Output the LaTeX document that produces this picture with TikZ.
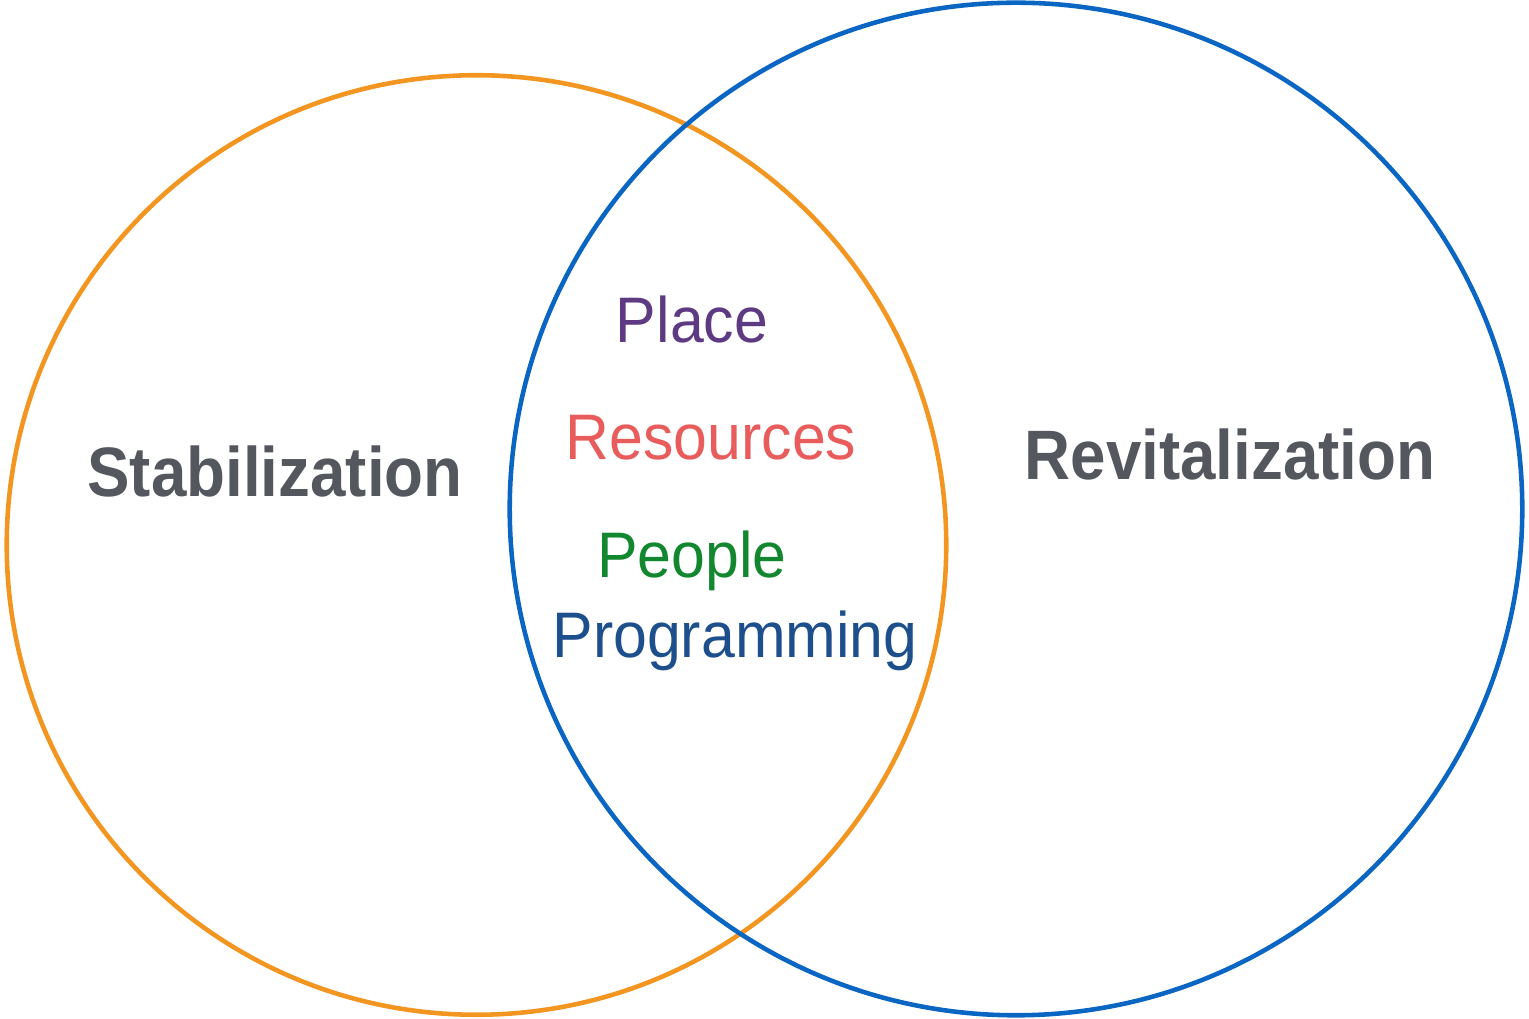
\documentclass[tikz,border=0pt]{standalone}
\usepackage{fontspec}
\setmainfont{Liberation Sans}
\newfontfamily\headfont[FakeStretch=0.91]{Liberation Sans}
\newfontfamily\itemfont[FakeStretch=0.945]{Liberation Sans}
\usetikzlibrary{positioning}

\definecolor{ringorange}{HTML}{F39521}
\definecolor{ringblue}{HTML}{0A66C2}
\definecolor{headgray}{HTML}{54575E}
\definecolor{placepurple}{HTML}{5E3A82}
\definecolor{rescoral}{HTML}{E85C5C}
\definecolor{peoplegreen}{HTML}{12872F}
\definecolor{progblue}{HTML}{1D4F8C}

\begin{document}
\begin{tikzpicture}[x=0.01cm,y=-0.01cm,
    ring/.style={draw,circle,line width=1.3pt,inner sep=0pt},
    head/.style={anchor=base,text=headgray,font=\headfont\fontsize{19.9}{22}\selectfont\bfseries},
    item/.style={anchor=base,font=\itemfont\fontsize{18.3}{21}\selectfont}]
            \useasboundingbox (0,0) rectangle (1529,1019);
            \node[ring,ringorange,minimum size=9.39cm] (stab) at (476.5,545) {};
            \node[ring,ringblue,minimum size=10.12cm]  (revi) at (1016,509)  {};
            \node[head] (stablabel) at (275,497)  {Stabilization};
            \node[head] (revilabel) at (1230,480) {Revitalization};
            \node[item,text=placepurple] (place)       at (692,343) {Place};
            \node[item,text=rescoral]    (resources)   at (711,460) {Resources};
            \node[item,text=peoplegreen] (people)      at (692,578) {People};
            \node[item,text=progblue]    (programming) at (735,658) {Programming};
          \end{tikzpicture}
\end{document}
